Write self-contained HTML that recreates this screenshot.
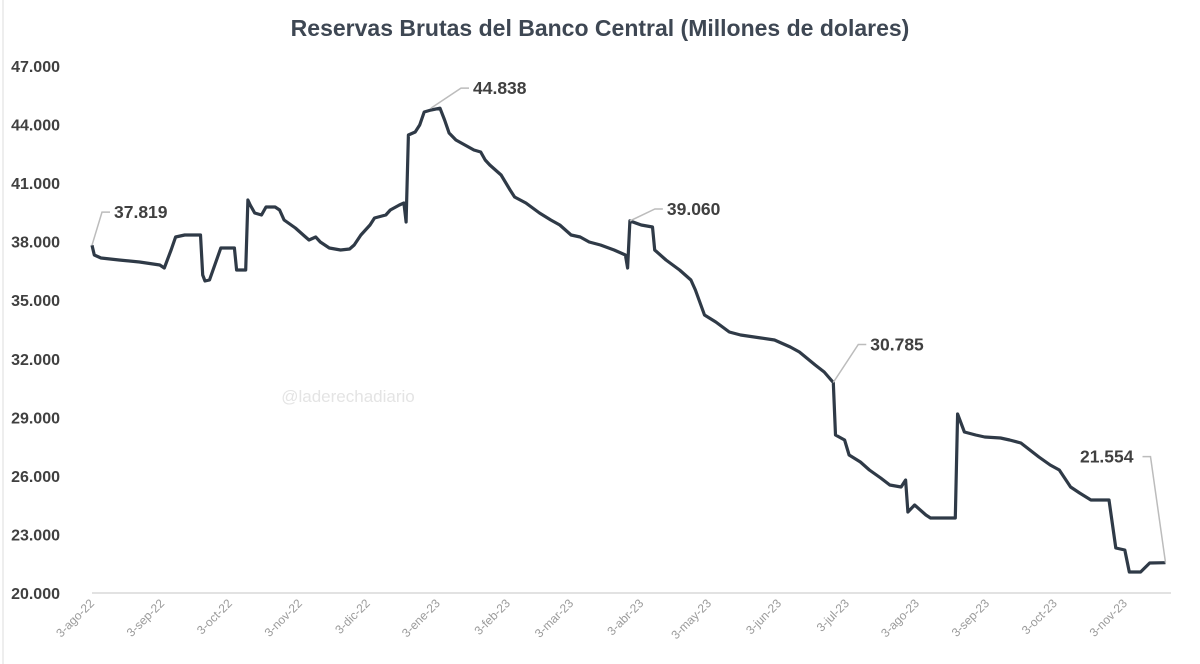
<!DOCTYPE html>
<html><head><meta charset="utf-8"><style>
html,body{margin:0;padding:0;background:#fff;width:1200px;height:664px;overflow:hidden}
svg{display:block;font-family:"Liberation Sans",Arial,sans-serif}
</style></head><body>
<svg id="chart" width="1200" height="664" viewBox="0 0 1200 664">
<line x1="3" y1="0" x2="3" y2="664" stroke="#ddd" stroke-width="1"/>
<text x="600" y="36" text-anchor="middle" font-size="23" font-weight="bold" fill="#3e4753">Reservas Brutas del Banco Central (Millones de dolares)</text>
<text x="348" y="402" text-anchor="middle" font-size="17" fill="#e4e4e4">@laderechadiario</text>
<g id="yaxis"></g>
<g id="xaxis"></g>
<g id="series"></g>
<g id="annos"></g>
</svg>
<script>
const yTicks = [20000,23000,26000,29000,32000,35000,38000,41000,44000,47000];
const xTickLabels = ["3-ago-22","3-sep-22","3-oct-22","3-nov-22","3-dic-22","3-ene-23","3-feb-23","3-mar-23","3-abr-23","3-may-23","3-jun-23","3-jul-23","3-ago-23","3-sep-23","3-oct-23","3-nov-23"];
const xTickDays = [0,31,61,92,122,153,184,212,243,273,304,334,365,396,426,457];
const days = [0,1,4,12,21,30,32,35,37,41,46,48,49,50,52,57,59,62,63,64,68,69,70,72,75,77,81,83,85,90,94,96,99,101,105,110,114,116,119,123,125,130,132,136,138,139,140,143,145,147,150,154,156,158,161,165,169,172,174,176,181,185,187,192,198,203,207,212,216,220,225,231,236,237,238,243,248,249,254,260,265,267,271,276,282,287,296,302,309,313,320,324,328,329,333,335,340,344,349,353,358,360,361,364,369,371,382,383,386,391,395,402,406,411,415,419,424,428,433,437,442,450,453,457,459,464,468,475];
const values = [37819,37316,37162,37060,36957,36803,36650,37572,38238,38340,38340,38340,36291,35984,36035,37674,37674,37674,37674,36547,36547,40133,39877,39467,39365,39775,39775,39621,39109,38699,38289,38084,38238,37982,37674,37572,37623,37828,38340,38853,39211,39365,39621,39877,39980,39006,43463,43617,43976,44642,44744,44838,44232,43566,43207,42951,42695,42592,42183,41926,41414,40646,40287,39980,39467,39109,38853,38340,38238,37982,37828,37572,37316,36650,39060,38853,38750,37572,37060,36547,36035,35523,34242,33883,33371,33217,33064,32961,32603,32346,31680,31322,30785,28094,27838,27070,26711,26301,25891,25533,25430,25789,24150,24508,23996,23842,23842,29170,28248,28094,27992,27941,27838,27685,27326,26967,26557,26301,25430,25123,24764,24764,22305,22203,21076,21076,21537,21554];
const annoDays = [0,150,238,328,475];
const annoValues = [37819,44838,39060,30785,21554];
const annoLabels = ["37.819","44.838","39.060","30.785","21.554"];
const annoDx = [10,30,25,25,-15];
const annoDy = [-33,-20,-12,-38,-106];

const NS="http://www.w3.org/2000/svg";
const X0=92, PXD=2.26, Y0=593, PXV=0.01952;
function xs(d){return X0+d*PXD;}
function ys(v){return Y0-(v-20000)*PXV;}
function mk(tag,attrs,parent){const e=document.createElementNS(NS,tag);for(const k in attrs)e.setAttribute(k,attrs[k]);parent.appendChild(e);return e;}

const ya=document.getElementById('yaxis');
const base=mk('line',{x1:92,x2:1171,y1:ys(20000),y2:ys(20000),stroke:'#d9d9d9','stroke-width':1.5},ya);


yTicks.forEach(v=>{
  const t=mk('text',{x:60,y:ys(v)+6,'text-anchor':'end','font-size':16,'font-weight':'bold',fill:'#404040'},ya);
  t.textContent=String(v/1000)+'.000';
  
  
});

const xa=document.getElementById('xaxis');
xTickLabels.forEach((lab,i)=>{
  const x=xs(xTickDays[i])+3, y=604;
  const t=mk('text',{x:x,y:y,'text-anchor':'end','font-size':12,fill:'#9a9a9a',transform:`rotate(-45 ${x} ${y})`},xa);
  t.textContent=lab;
  
  
});

const sg=document.getElementById('series');
const pts=days.map((d,i)=>xs(d).toFixed(1)+','+ys(values[i]).toFixed(1)).join(' ');
const pl=mk('polyline',{points:pts,fill:'none',stroke:'#2f3a47','stroke-width':3.2,'stroke-linejoin':'round'},sg);



const ag=document.getElementById('annos');
annoDays.forEach((d,i)=>{
  const x=xs(d), y=ys(annoValues[i]);
  const tx=x+annoDx[i], ty=y+annoDy[i];
  const neg=annoDx[i]<0;
  const ln=mk('polyline',{points:`${x},${y} ${tx},${ty} ${tx+(neg?-8:8)},${ty}`,fill:'none',stroke:'#bcbcbc','stroke-width':1.5},ag);
  
  
  const t=mk('text',{x:neg?tx-17:tx+12,y:ty+6,'text-anchor':neg?'end':'start','font-size':17.5,'font-weight':'bold',fill:'#404040'},ag);
  t.textContent=annoLabels[i];
  
  
});
</script>
</body></html>
